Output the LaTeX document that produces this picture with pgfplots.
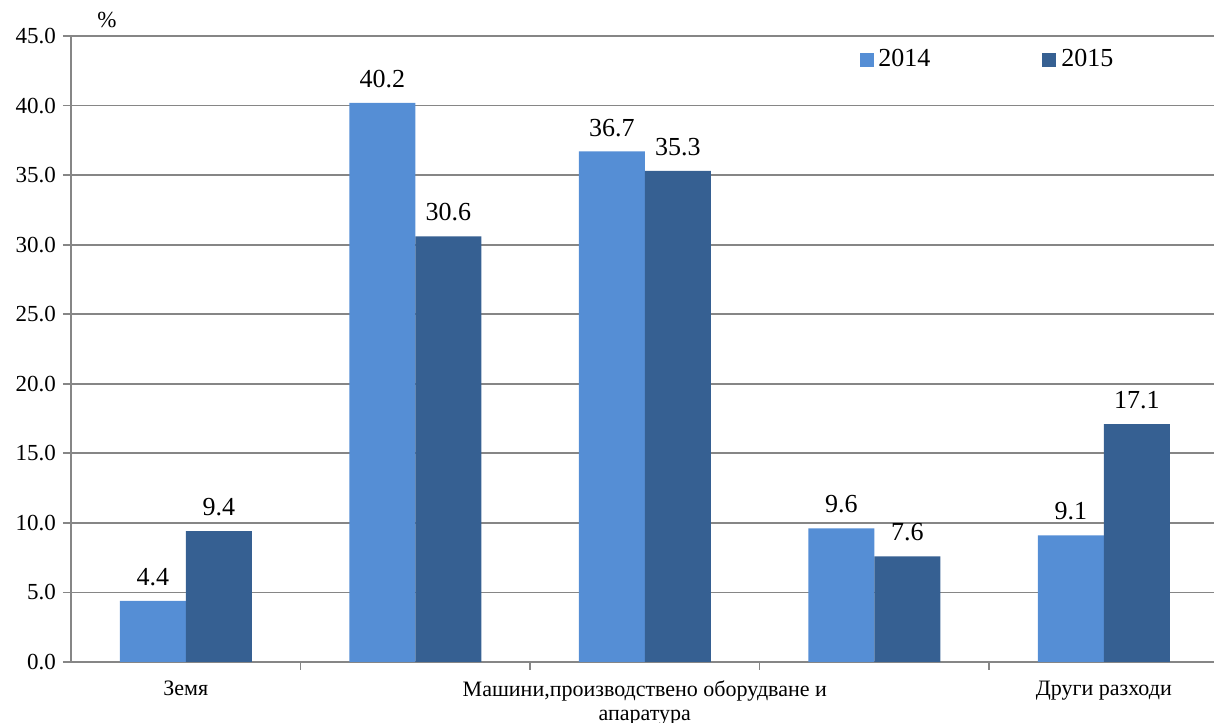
\documentclass[border=0pt]{standalone}
\usepackage{fontspec}
\setmainfont{Liberation Serif}
\usepackage{pgfplots}
\pgfplotsset{compat=1.18}
\definecolor{c2014}{RGB}{85,142,213}
\definecolor{c2015}{RGB}{54,96,146}
\definecolor{axgray}{RGB}{134,134,134}

\begin{document}
\begin{tikzpicture}
\begin{axis}[
    name=ax,
    scale only axis,
    width=571.5pt,
    height=313pt,
    ybar=0pt,
    bar width=33pt,
    xmin=0.5, xmax=5.48,
    ymin=0, ymax=45,
    ytick={0,5,...,45},
    axis x line*=bottom,
    axis y line*=left,
    axis line style={axgray, line width=0.9pt},
    tick style={axgray, line width=0.9pt},
    tick align=outside,
    major tick length=4pt,
    ymajorgrids,
    grid style={axgray, line width=0.9pt},
    xtick={1.5,2.5,3.5,4.5},
    xticklabels={,,,},
    extra x ticks={1,3,5},
    extra x tick labels={Земя,{Машини,производствено оборудване и\\апаратура},Други разходи},
    extra x tick style={major tick length=0pt, grid=none,
        xticklabel style={align=center, yshift=-6pt, font=\fontsize{11}{11.8}\selectfont}},
    /pgf/number format/assume math mode=true,
    yticklabel style={font=\fontsize{11.5}{13}\selectfont,
        /pgf/number format/fixed, /pgf/number format/fixed zerofill,
        /pgf/number format/precision=1},
    scaled y ticks=false,
    nodes near coords,
    every node near coord/.append style={text=black, yshift=4pt,
        font=\fontsize{13}{15}\selectfont,
        /pgf/number format/fixed, /pgf/number format/fixed zerofill,
        /pgf/number format/precision=1},
    legend columns=2,
    legend style={draw=none, fill=none, at={(0.6895,0.962)}, anchor=west,
        inner sep=0pt, font=\fontsize{13}{15}\selectfont,
        nodes={inner xsep=2.5pt},
        /tikz/every even column/.append style={column sep=53.5pt}},
    legend image code/.code={\fill[#1] (0pt,-3.5pt) rectangle (7pt,3.5pt);},
    clip=false,
]
% 2014
\addplot[fill=c2014, draw=none] coordinates {
 (1,4.4) (2,40.2) (3,36.7) (4,9.6) (5,9.1)
};
\addlegendentry{2014}
% 2015
\addplot[fill=c2015, draw=none] coordinates {
 (1,9.4) (2,30.6) (3,35.3) (4,7.6) (5,17.1)
};
\addlegendentry{2015}
\node[anchor=base, font=\fontsize{11.5}{13}\selectfont, xshift=18pt, yshift=4pt]
    at (rel axis cs:0,1) {\%};
\end{axis}
\pgfresetboundingbox
\path[use as bounding box] ([xshift=-35.5pt,yshift=-30.5pt]ax.south west)
    rectangle ([yshift=18pt]ax.north east);
\end{tikzpicture}
\end{document}
